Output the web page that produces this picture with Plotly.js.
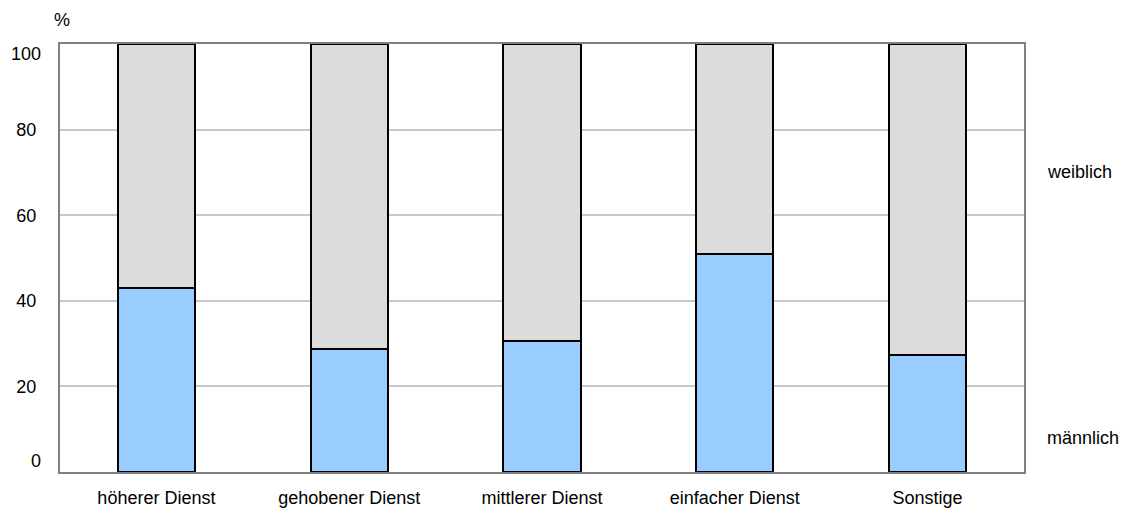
<!DOCTYPE html>
<html>
<head>
<meta charset="utf-8">
<script src="https://cdn.plot.ly/plotly-3.0.1.min.js"></script>
<style>html,body{margin:0;padding:0;background:#fff;}#chart{width:1127px;height:511px;}</style>
</head>
<body>
<div id="chart"></div>
<script>
const categories = ["höherer Dienst", "gehobener Dienst", "mittlerer Dienst", "einfacher Dienst", "Sonstige"];
const maennlich = [43.1, 28.7, 30.7, 51.0, 27.4];
const weiblich = [56.9, 71.3, 69.3, 49.0, 72.6];
const seriesNames = ["männlich", "weiblich"];
const yTicksInner = [20, 40, 60, 80];
const yTicksOuter = [0, 100];

const FONT = "Liberation Sans, Arial, sans-serif";
const traces = [
  {type: "bar", x: categories, y: maennlich, name: seriesNames[0],
   marker: {color: "#99ccff", line: {color: "#000000", width: 2}}, hoverinfo: "skip"},
  {type: "bar", x: categories, y: weiblich, name: seriesNames[1],
   marker: {color: "#dcdcdc", line: {color: "#000000", width: 2}}, hoverinfo: "skip"},
  {type: "scatter", x: categories, y: [null, null, null, null, null], yaxis: "y2",
   mode: "markers", showlegend: false, hoverinfo: "skip"}
];
const layout = {
  width: 1127, height: 511,
  margin: {l: 60, r: 103, t: 44, b: 39},
  paper_bgcolor: "#ffffff", plot_bgcolor: "#ffffff",
  barmode: "stack", bargap: 0.6,
  showlegend: false,
  font: {family: FONT, size: 18, color: "#000000"},
  xaxis: {showline: true, mirror: true, linecolor: "#808080", linewidth: 2,
          showgrid: false, ticks: "", ticklabelstandoff: 8, fixedrange: true},
  yaxis: {range: [0, 100], tickvals: yTicksInner, showline: true, mirror: true,
          linecolor: "#808080", linewidth: 2, gridcolor: "#c8c8c8", gridwidth: 2,
          zeroline: false, ticks: "", ticklabelstandoff: 18, fixedrange: true},
  yaxis2: {overlaying: "y", side: "left", range: [-2.7, 102.33], tickvals: yTicksOuter,
           showgrid: false, zeroline: false, showline: false, ticks: "",
           ticklabelstandoff: 18, fixedrange: true},
  annotations: [
    {text: "%", xref: "paper", yref: "paper", x: 0.002, y: 1, yshift: 24, showarrow: false,
     xanchor: "center", yanchor: "middle", font: {size: 18}},
    {text: seriesNames[1], xref: "paper", yref: "paper", x: 1, xshift: 21, y: 0.7, showarrow: false,
     xanchor: "left", yanchor: "middle", font: {size: 18}},
    {text: seriesNames[0], xref: "paper", yref: "paper", x: 1, xshift: 21, y: 0.08, showarrow: false,
     xanchor: "left", yanchor: "middle", font: {size: 18}}
  ]
};
Plotly.newPlot("chart", traces, layout, {displayModeBar: false, staticPlot: true});
</script>
</body>
</html>
